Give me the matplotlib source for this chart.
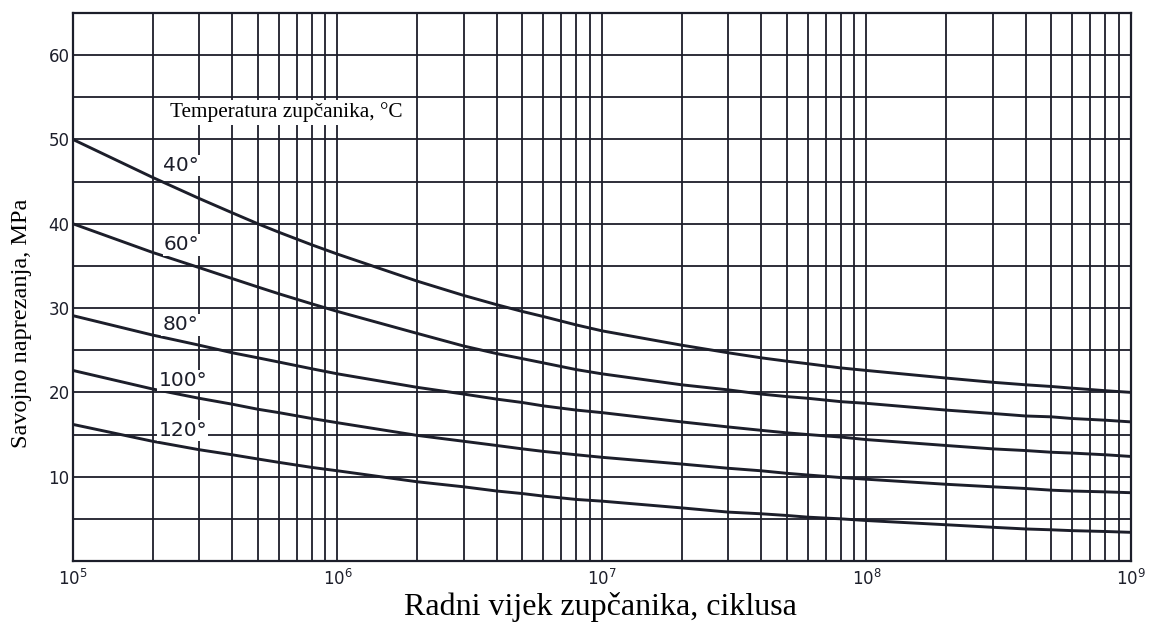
import matplotlib
matplotlib.use("Agg")
import matplotlib.pyplot as plt
from matplotlib.ticker import LogLocator, LogFormatterMathtext, MultipleLocator, FuncFormatter, NullFormatter
import numpy as np

# Service life (load cycles) and allowable bending stress (MPa) per gear temperature
cycles = [1e5, 2e5, 3e5, 4e5, 5e5, 6e5, 8e5,
          1e6, 2e6, 3e6, 4e6, 5e6, 6e6, 8e6,
          1e7, 2e7, 3e7, 4e7, 5e7, 6e7, 8e7,
          1e8, 2e8, 3e8, 4e8, 5e8, 6e8, 8e8, 1e9]
stress_40 = [50.0, 45.5, 43.0, 41.3, 40.0, 39.0, 37.5,
             36.4, 33.2, 31.5, 30.4, 29.6, 29.0, 28.0,
             27.3, 25.6, 24.7, 24.1, 23.7, 23.4, 22.9,
             22.6, 21.7, 21.2, 20.9, 20.7, 20.5, 20.2, 20.0]
stress_60 = [40.0, 36.6, 34.8, 33.5, 32.5, 31.7, 30.5,
             29.6, 27.0, 25.5, 24.6, 24.0, 23.5, 22.7,
             22.2, 20.9, 20.3, 19.8, 19.5, 19.3, 18.9,
             18.7, 17.9, 17.5, 17.2, 17.1, 16.9, 16.7, 16.5]
stress_80 = [29.1, 26.8, 25.6, 24.7, 24.1, 23.6, 22.8,
             22.2, 20.6, 19.8, 19.2, 18.8, 18.4, 17.9,
             17.6, 16.5, 15.9, 15.5, 15.2, 15.0, 14.7,
             14.4, 13.7, 13.3, 13.1, 12.9, 12.8, 12.6, 12.4]
stress_100 = [22.6, 20.4, 19.3, 18.6, 18.0, 17.6, 16.9,
              16.4, 14.9, 14.2, 13.7, 13.3, 13.0, 12.6,
              12.3, 11.5, 11.0, 10.7, 10.4, 10.2, 9.9,
              9.7, 9.1, 8.8, 8.6, 8.4, 8.3, 8.2, 8.1]
stress_120 = [16.2, 14.2, 13.2, 12.6, 12.1, 11.7, 11.1,
              10.7, 9.4, 8.8, 8.3, 8.0, 7.7, 7.3,
              7.1, 6.3, 5.8, 5.6, 5.4, 5.2, 5.0,
              4.8, 4.3, 4.0, 3.8, 3.7, 3.6, 3.5, 3.4]

series = [stress_40, stress_60, stress_80, stress_100, stress_120]
curve_labels = ["40°", "60°", "80°", "100°", "120°"]
label_pos = [(2.55e5, 46.9), (2.58e5, 37.5), (2.55e5, 28.0), (2.6e5, 21.4), (2.6e5, 15.5)]

ink = "#1c1e2a"

fig = plt.figure(figsize=(11.51, 6.25), dpi=100)
ax = fig.add_axes([0.0634, 0.1024, 0.9192, 0.8768])

for ys in series:
    ax.plot(cycles, ys, color=ink, lw=2.1, zorder=3,
            solid_joinstyle="round", solid_capstyle="butt")

ax.set_xscale("log")
ax.set_xlim(1e5, 1e9)
ax.set_ylim(0, 65)

ax.xaxis.set_major_locator(LogLocator(base=10, numticks=10))
ax.xaxis.set_minor_locator(LogLocator(base=10, subs=np.arange(2, 10), numticks=20))
ax.xaxis.set_major_formatter(LogFormatterMathtext())
ax.xaxis.set_minor_formatter(NullFormatter())
ax.yaxis.set_major_locator(MultipleLocator(5))
ax.yaxis.set_major_formatter(FuncFormatter(lambda v, p: f"{int(v)}" if (v % 10 == 0 and v > 0) else ""))

ax.grid(True, which="both", color=ink, lw=1.3)
ax.tick_params(which="both", length=0, colors=ink, labelsize=12)
ax.tick_params(axis="x", pad=6)
ax.tick_params(axis="y", pad=2.5)
for sp in ax.spines.values():
    sp.set_color(ink)
    sp.set_linewidth(1.6)

for (x, y), txt in zip(label_pos, curve_labels):
    ax.text(x, y, txt, fontsize=14.5, color=ink, ha="center", va="center", zorder=4,
            bbox=dict(facecolor="white", edgecolor="none", pad=0.8))

ax.text(2.33e5, 53.2, "Temperatura zupčanika, °C", family="Liberation Serif", fontsize=15.3,
        color="black", ha="left", va="center", zorder=4,
        bbox=dict(facecolor="white", edgecolor="none", pad=1.5))

fig.text(0.0191, 0.483, "Savojno naprezanja, MPa", family="Liberation Serif", fontsize=17.5,
         rotation=90, ha="center", va="center", color="black")
fig.text(0.522, 0.016, "Radni vijek zupčanika, ciklusa", family="Liberation Serif", fontsize=23,
         ha="center", va="baseline", color="black")

fig.savefig("out.png", dpi=100, facecolor="white")
